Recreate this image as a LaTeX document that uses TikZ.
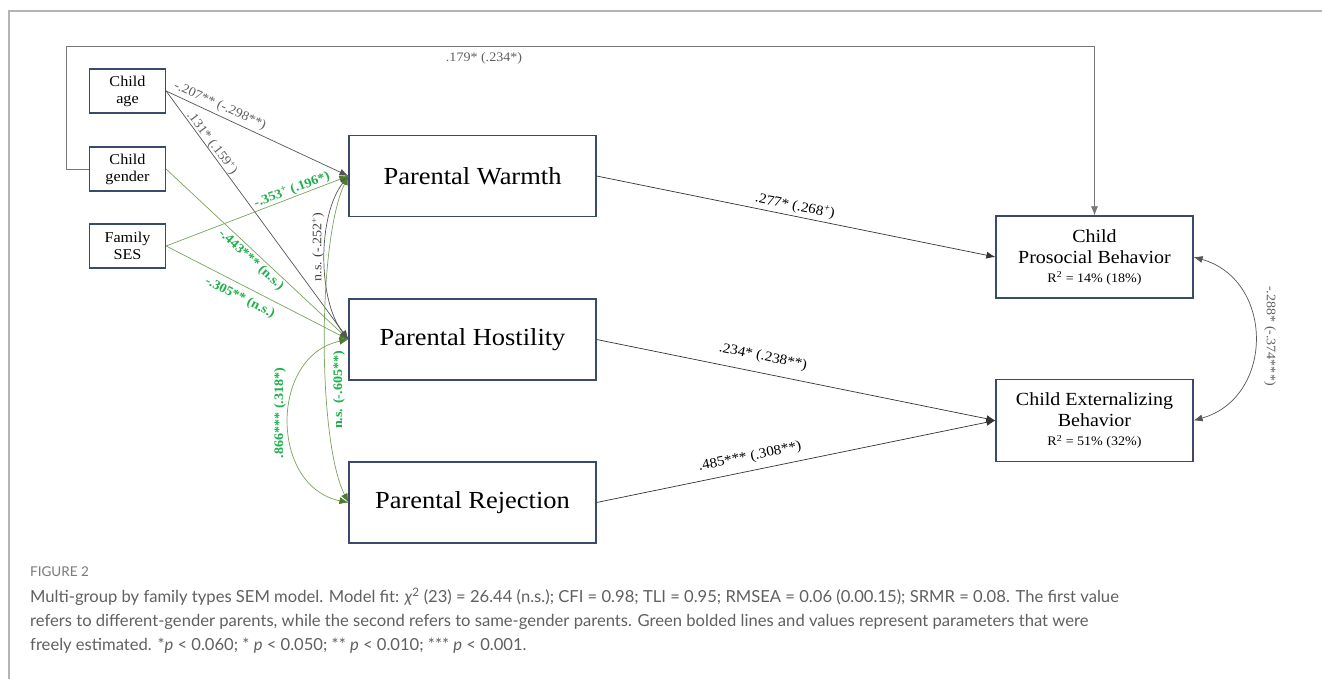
\documentclass[tikz,border=0pt]{standalone}
\usepackage{fontspec}
\setmainfont{Liberation Serif}
\newfontfamily\diag[FakeStretch=1.08]{Liberation Serif}
\newfontfamily\capfont{Lato}
\usetikzlibrary{arrows.meta}
\definecolor{boxc}{HTML}{3B4A6B}
\definecolor{framec}{HTML}{B4B4B4}
\definecolor{grayln}{HTML}{555555}
\definecolor{graytx}{HTML}{5F5F5F}
\definecolor{greenln}{HTML}{7AA45C}
\definecolor{greenhd}{HTML}{4E7A30}
\definecolor{greentx}{HTML}{1DB04A}
\definecolor{captx}{HTML}{606060}
\definecolor{figtx}{HTML}{7A7A7A}
\begin{document}
\begin{tikzpicture}[x=1pt,y=-1pt,
  smallbox/.style={draw=boxc,line width=1.2pt,minimum width=76pt,minimum height=44pt,inner sep=0pt,align=center,font=\diag\fontsize{15}{17}\selectfont},
  parbox/.style={draw=boxc,line width=1.2pt,minimum width=247pt,minimum height=81pt,inner sep=0pt,align=center,font=\diag\fontsize{24.5}{28}\selectfont},
  outbox/.style={draw=boxc,line width=1.2pt,minimum width=197pt,minimum height=82pt,inner sep=0pt,align=center,font=\diag\fontsize{18.5}{21}\selectfont},
  grayarr/.style={draw=grayln,line width=0.7pt,-{Latex[length=9pt,width=7pt]}},
  greenarr/.style={draw=greenln,line width=0.7pt,-{Latex[length=9pt,width=7pt,color=greenhd]}},
  blackarr/.style={draw=black!80,line width=0.7pt,-{Latex[length=9pt,width=7pt]}},
  glab/.style={text=graytx,inner sep=0pt,font=\diag\fontsize{13}{13}\selectfont},
  grlab/.style={text=greentx,inner sep=0pt,font=\diag\bfseries\fontsize{13}{13}\selectfont},
  blab/.style={text=black,inner sep=0pt,font=\diag\fontsize{14}{14}\selectfont},
  captext/.style={anchor=west,inner sep=0pt,text=captx,font=\capfont\fontsize{16.6}{17}\selectfont}
]
\useasboundingbox (0,0) rectangle (1322,679);
\fill[white] (0,0) rectangle (1322,679);
\draw[framec,line width=1.5pt] (9,679) -- (9,11) -- (1322,11);

% nodes
\node[smallbox] (age) at (127.5,91) {Child\\age};
\node[smallbox] (gender) at (127.5,169) {Child\\gender};
\node[smallbox] (ses) at (127.5,246) {Family\\SES};
\node[parbox] (warmth) at (472.5,176) {Parental Warmth};
\node[parbox] (host) at (472.5,339.5) {Parental Hostility};
\node[parbox] (rej) at (472.5,502.5) {Parental Rejection};
\node[outbox] (pro) at (1094.5,257) {Child\\Prosocial Behavior\\[-2pt]{\fontsize{13}{14}\selectfont R\textsuperscript{2} = 14\% (18\%)}};
\node[outbox] (ext) at (1094.5,420.5) {Child Externalizing\\Behavior\\[-2pt]{\fontsize{13}{14}\selectfont R\textsuperscript{2} = 51\% (32\%)}};

% top path
\coordinate (tl) at (66,46);
\draw[grayarr,draw=grayln!80] (gender.west) -| (tl) -| (pro.north);
\node[glab] (l179) at (484,58) {.179* (.234*)};

% left arrows
\draw[grayarr] (age.east) -- (warmth.west);
\draw[grayarr] (age.east) -- (host.west);
\draw[greenarr] (gender.east) -- (host.west);
\draw[greenarr] (ses.east) -- (warmth.west);
\draw[greenarr] (ses.east) -- (host.west);

% covariances
\draw[grayln,line width=0.7pt,{Latex[length=9pt,width=7pt]}-{Latex[length=9pt,width=7pt]}] (warmth.west) .. controls +(-31,39) and +(-31,-39) .. (host.west);
\draw[greenln,line width=0.7pt,{Latex[length=9pt,width=7pt,color=greenhd]}-{Latex[length=9pt,width=7pt,color=greenhd]}] (warmth.west) .. controls +(-31,64) and +(-31,-62) .. (rej.west);
\draw[greenln,line width=0.7pt,{Latex[length=9pt,width=7pt,color=greenhd]}-{Latex[length=9pt,width=7pt,color=greenhd]}] (host.west) .. controls +(-79,16) and +(-79,-16) .. (rej.west);
\draw[grayln,line width=0.7pt,{Latex[length=9pt,width=7pt]}-{Latex[length=9pt,width=7pt]}] (pro.east) .. controls +(81,23) and +(81,-23) .. (ext.east);

% right arrows
\draw[blackarr] (warmth.east) -- (pro.west);
\draw[blackarr] (host.east) -- (ext.west);
\draw[blackarr] (rej.east) -- (ext.west);

% labels
\node[glab,rotate=-24.5] (l207) at (220,106) {-.207** (-.298**)};
\node[glab,rotate=-52.9] (l131) at (212,143) {.131* (.159\textsuperscript{+})};
\node[grlab,rotate=20.9] (l353) at (292,190) {-.353\textsuperscript{+} (.196*)};
\node[grlab,rotate=-42.6] (l443) at (251,260) {-.443*** (n.s.)};
\node[grlab,rotate=-26.9] (l305) at (240,298) {-.305** (n.s.)};
\node[glab,text=black!75,rotate=90] (l252) at (318,247) {n.s. (-.252\textsuperscript{+})};
\node[grlab,rotate=90] (l605) at (339,390) {n.s. (-.605**)};
\node[grlab,rotate=90] (l866) at (280,413) {.866*** (.318*)};
\node[blab,rotate=-11.45] (l277) at (795,206) {.277* (.268\textsuperscript{+})};
\node[blab,rotate=-11.45] (l234) at (763,357) {.234* (.238**)};
\node[blab,rotate=11.45] (l485) at (750,457) {.485*** (.308**)};
\node[glab,rotate=-90] (l288) at (1270,336) {-.288* (-.374***)};

% caption
\node[anchor=west,inner sep=0pt,text=figtx,font=\capfont\fontsize{13.5}{14}\selectfont] (fig) at (30,572) {FIGURE 2};
\node[captext] (c1) at (30,597) {Multi-group by family types SEM model. Model fit: \textit{χ}\textsuperscript{2} (23) = 26.44 (n.s.); CFI = 0.98; TLI = 0.95; RMSEA = 0.06 (0.00.15); SRMR = 0.08. The first value};
\node[captext] (c2) at (30,622) {refers to different-gender parents, while the second refers to same-gender parents. Green bolded lines and values represent parameters that were};
\node[captext] (c3) at (30,646) {freely estimated. *\textit{p} < 0.060; * \textit{p} < 0.050; ** \textit{p} < 0.010; *** \textit{p} < 0.001.};
\end{tikzpicture}
\end{document}
